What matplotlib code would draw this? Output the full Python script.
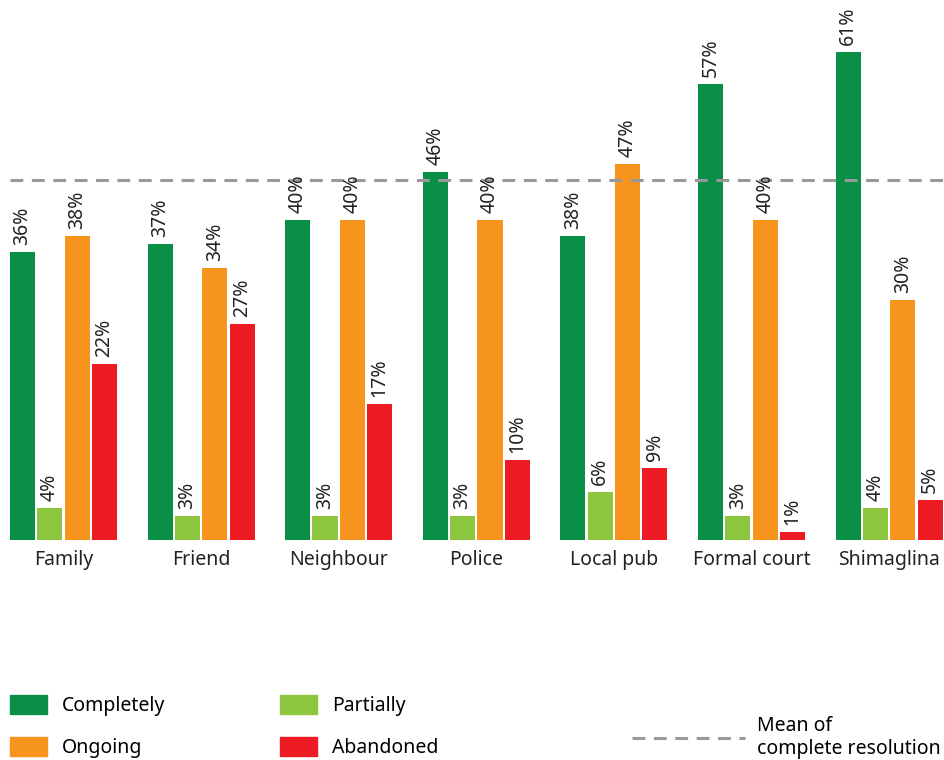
import matplotlib
matplotlib.use("Agg")
import matplotlib.pyplot as plt
import numpy as np
from matplotlib.patches import Patch
from matplotlib.lines import Line2D

plt.rcParams["font.family"] = ["Noto Sans", "DejaVu Sans"]

categories = ["Family", "Friend", "Neighbour", "Police", "Local pub",
              "Formal court", "Shimaglina"]
completely = [36, 37, 40, 46, 38, 57, 61]
partially = [4, 3, 3, 3, 6, 3, 4]
ongoing = [38, 34, 40, 40, 47, 40, 30]
abandoned = [22, 27, 17, 10, 9, 1, 5]

series = [
    ("Completely", completely, "#0a8f47"),
    ("Partially", partially, "#8dc63f"),
    ("Ongoing", ongoing, "#f7941e"),
    ("Abandoned", abandoned, "#ed1c24"),
]

FS = 14
DASH = (0, (4.2, 2.8))

fig = plt.figure(figsize=(9.44, 7.6), dpi=100)
ax = fig.add_axes([0, 0.2895, 1, 0.7105])

x = np.arange(len(categories))
step = 0.199
width = 0.182
for i, (name, vals, color) in enumerate(series):
    pos = x + (i - 1.5) * step
    ax.bar(pos, vals, width=width, color=color, label=name)
    for xp, v in zip(pos, vals):
        ax.annotate(f"{v}%", (xp, v), xytext=(0, 5), textcoords="offset points",
                    rotation=90, ha="center", va="bottom", fontsize=FS,
                    color="#222222")

# mean of complete resolution, starting at the first bar
mean_complete = np.mean(completely)
ax.hlines(mean_complete, x[0] - 1.5 * step - width / 2, 6.399,
          color="#999999", lw=2.2, ls=DASH)

ax.set_xlim(-0.4615, 6.399)
ax.set_ylim(0, 67.5)
ax.set_xticks(x)
ax.set_xticklabels(categories, fontsize=FS, color="#222222")
ax.tick_params(axis="x", length=0, pad=7)
ax.set_yticks([])
for s in ax.spines.values():
    s.set_visible(False)

handles = [Patch(color=c, label=n) for n, _, c in series]
order = [0, 2, 1, 3]
fig.legend([handles[k] for k in order], [series[k][0] for k in order],
           ncol=2, loc="upper left", bbox_to_anchor=(0.0106, 0.0855),
           frameon=False, fontsize=FS, handlelength=1.9,
           handleheight=1.1, handletextpad=0.77, columnspacing=5.9,
           labelspacing=1.1, borderaxespad=0, borderpad=0)

mean_handle = Line2D([], [], color="#999999", lw=2.2, ls=DASH)
fig.legend([mean_handle], ["Mean of\ncomplete resolution"],
           loc="upper left", bbox_to_anchor=(0.669, 0.058),
           frameon=False, fontsize=FS, handlelength=5.85, handletextpad=0.6,
           borderaxespad=0, borderpad=0)

fig.savefig("out.png", dpi=100)
